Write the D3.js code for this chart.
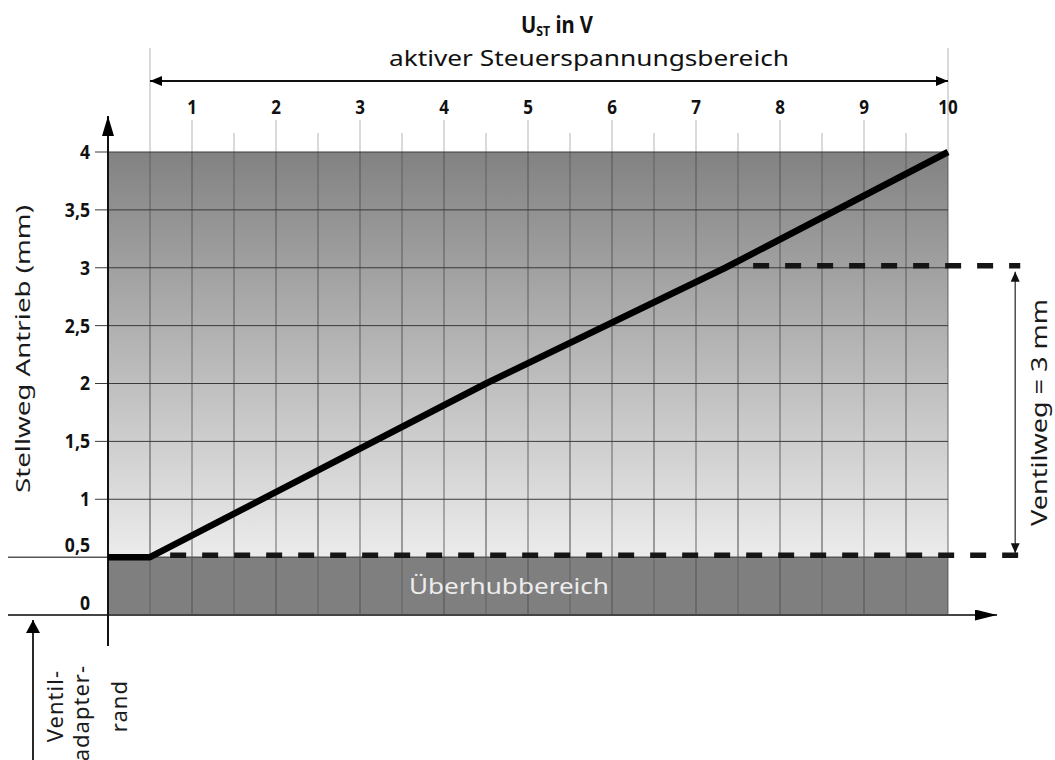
<!DOCTYPE html>
<html><head><meta charset="utf-8">
<script src="https://cdn.jsdelivr.net/npm/d3@7"></script>
<style>
html,body{margin:0;padding:0;background:#fff;}
svg{display:block;}
text{font-family:"Noto Sans","Open Sans",sans-serif;}
</style></head>
<body>
<svg id="chart" width="1055" height="760"></svg>
<script>
// ---- data ----
const voltTicks = [1,2,3,4,5,6,7,8,9,10];
const voltGrid = [0,0.5,1,1.5,2,2.5,3,3.5,4,4.5,5,5.5,6,6.5,7,7.5,8,8.5,9,9.5,10];
const strokeTicks = [0,0.5,1,1.5,2,2.5,3,3.5,4];
const strokeTickLabels = ["0","0,5","1","1,5","2","2,5","3","3,5","4"];
const curveVolt = [0, 0.5, 4.5, 7.35, 10];
const curveStroke = [0.5, 0.5, 2.0, 3.0, 4.0];
const activeRange = [0.5, 10];          // aktiver Steuerspannungsbereich (V)
const overstrokeRange = [0, 0.5];       // Überhubbereich (mm)
const valveTravel = [0.5, 3];           // Ventilweg (mm)
const travelDashFrom = [0.74, 7.68];    // where the dashed guide lines begin (V)
const travelDashTo = 10.86;             // where the dashed guide lines end (V)
const travelArrowAt = 10.8;             // position of the Ventilweg arrow (V)
const adapterLabel = ["Ventil-","adapter-","rand"];

// ---- layout ----
const svg = d3.select("#chart");
const x = d3.scaleLinear().domain([0,10]).range([108,948]);
const y = d3.scaleLinear().domain([0,4]).range([615,152]);

const defs = svg.append("defs");
const grad = defs.append("linearGradient").attr("id","bg").attr("x1",0).attr("y1",0).attr("x2",0).attr("y2",1);
grad.append("stop").attr("offset","0%").attr("stop-color","#828282");
grad.append("stop").attr("offset","100%").attr("stop-color","#ececec");

function arrowMarker(id, w, l, color){
  defs.append("marker").attr("id",id).attr("viewBox",`0 ${-w/2} ${l} ${w}`)
    .attr("refX", l).attr("refY",0).attr("markerWidth",l).attr("markerHeight",w)
    .attr("markerUnits","userSpaceOnUse").attr("orient","auto-start-reverse")
    .append("path").attr("d",`M0,${-w/2}L${l},0L0,${w/2}Z`).attr("fill",color);
}
arrowMarker("arrBig", 12, 20, "#000");
arrowMarker("arrX", 11, 22, "#000");
arrowMarker("arrSmall", 10, 12, "#000");
arrowMarker("arrLeft", 14, 13, "#000");
arrowMarker("arrTiny", 9, 10, "#111");

// background areas
svg.append("rect").attr("x",x(0)).attr("y",y(4)).attr("width",x(10)-x(0))
  .attr("height",y(overstrokeRange[1])-y(4)).attr("fill","url(#bg)");
svg.append("rect").attr("x",x(0)).attr("y",y(overstrokeRange[1])).attr("width",x(10)-x(0))
  .attr("height",y(overstrokeRange[0])-y(overstrokeRange[1])).attr("fill","#7f7f7f");

// extension lines above plot
svg.append("g").selectAll("line").data(voltGrid.filter(v=>v>0)).join("line")
  .attr("x1",d=>x(d)).attr("x2",d=>x(d))
  .attr("y1",d=> (d===activeRange[0]||d===activeRange[1]) ? 48 : (Number.isInteger(d)?120:133))
  .attr("y2",y(4)).attr("stroke","#b5b5b5").attr("stroke-width",1);

// vertical grid
svg.append("g").selectAll("line").data(voltGrid.filter(v=>v>0)).join("line")
  .attr("x1",d=>x(d)).attr("x2",d=>x(d)).attr("y1",y(4)).attr("y2",y(0))
  .attr("stroke",d=>Number.isInteger(d)?"#4a4a4a":"#666").attr("stroke-width",d=>Number.isInteger(d)?1:1.5)
  .attr("stroke-opacity",0.8);

// horizontal grid
svg.append("g").selectAll("line").data(strokeTicks.filter(v=>v>0.5)).join("line")
  .attr("x1",95).attr("x2",x(10)).attr("y1",d=>y(d)).attr("y2",d=>y(d))
  .attr("stroke","#3a3a3a").attr("stroke-width",1);
svg.append("line").attr("x1",8).attr("x2",x(10)).attr("y1",y(0.5)).attr("y2",y(0.5))
  .attr("stroke","#555").attr("stroke-width",1.5);

// x axis line
svg.append("line").attr("x1",8).attr("x2",997).attr("y1",y(0)).attr("y2",y(0))
  .attr("stroke","#444").attr("stroke-width",2).attr("marker-end","url(#arrX)");
// y axis line
svg.append("line").attr("x1",x(0)).attr("x2",x(0)).attr("y1",646).attr("y2",116)
  .attr("stroke","#111").attr("stroke-width",2).attr("marker-end","url(#arrBig)");

// y tick labels
svg.append("g").selectAll("text").data(strokeTicks).join("text")
  .attr("x",90).attr("y",(d)=> d<=0.5 ? y(d)-5 : y(d)+7)
  .attr("text-anchor","end").attr("font-size",20).attr("font-weight","bold").attr("fill","#111")
  .attr("transform",`translate(90,0) scale(0.88,1) translate(-90,0)`)
  .text((d,i)=>strokeTickLabels[i]);

// x tick labels
svg.append("g").selectAll("text").data(voltTicks).join("text")
  .attr("x",d=>x(d)).attr("y",114).attr("text-anchor","middle")
  .attr("font-size",20).attr("font-weight","bold").attr("fill","#111")
  .attr("transform",d=>`translate(${x(d)},0) scale(0.85,1) translate(${-x(d)},0)`)
  .text(d=>d);

// active range arrow
svg.append("line").attr("x1",x(activeRange[0])).attr("x2",x(activeRange[1])).attr("y1",81).attr("y2",81)
  .attr("stroke","#111").attr("stroke-width",2)
  .attr("marker-start","url(#arrSmall)").attr("marker-end","url(#arrSmall)");

// titles
const t = svg.append("text").attr("x",557).attr("y",33).attr("text-anchor","middle")
  .attr("font-weight","bold").attr("font-size",23).attr("fill","#111")
  .attr("transform","translate(557,0) scale(0.88,1) translate(-557,0)");
t.append("tspan").text("U");
t.append("tspan").attr("font-size",14).attr("dy",3).text("ST");
t.append("tspan").attr("dy",-3).text(" in V");

svg.append("text").attr("x",589).attr("y",66).attr("text-anchor","middle")
  .attr("font-size",22).attr("fill","#111")
  .attr("textLength",400).attr("lengthAdjust","spacingAndGlyphs")
  .text("aktiver Steuerspannungsbereich");

svg.append("text").attr("transform",`translate(30,${349}) rotate(-90)`).attr("text-anchor","middle")
  .attr("font-size",19).attr("fill","#1a1a1a")
  .attr("textLength",288).attr("lengthAdjust","spacingAndGlyphs")
  .text("Stellweg Antrieb (mm)");

svg.append("text").attr("x",509).attr("y",(y(overstrokeRange[0])+y(overstrokeRange[1]))/2+8)
  .attr("text-anchor","middle").attr("font-size",21).attr("fill","#ededed")
  .attr("textLength",200).attr("lengthAdjust","spacingAndGlyphs")
  .text("Überhubbereich");

// dashed guide lines
svg.append("g").selectAll("line").data(valveTravel).join("line")
  .attr("x1",(d,i)=>x(travelDashFrom[i])).attr("x2",x(travelDashTo))
  .attr("y1",d=>y(d)-2).attr("y2",d=>y(d)-2)
  .attr("stroke","#151515").attr("stroke-width",5.5).attr("stroke-dasharray","16,16");

// curve
const line = d3.line().x(d=>x(d[0])).y(d=>y(d[1]));
svg.append("path").datum(curveVolt.map((v,i)=>[v,curveStroke[i]]))
  .attr("d",line).attr("fill","none").attr("stroke","#000").attr("stroke-width",6.5)
  .attr("stroke-linejoin","round");

// Ventilweg arrow
svg.append("line").attr("x1",x(travelArrowAt)).attr("x2",x(travelArrowAt))
  .attr("y1",y(valveTravel[1])+4).attr("y2",y(valveTravel[0])-4)
  .attr("stroke","#333").attr("stroke-width",1.3)
  .attr("marker-start","url(#arrTiny)").attr("marker-end","url(#arrTiny)");
svg.append("text").attr("transform",`translate(1047,${(y(valveTravel[0])+y(valveTravel[1]))/2}) rotate(-90)`)
  .attr("text-anchor","middle").attr("font-size",21).attr("fill","#1a1a1a")
  .attr("textLength",227).attr("lengthAdjust","spacingAndGlyphs")
  .text("Ventilweg = 3 mm");

// Ventiladapterrand
svg.append("line").attr("x1",33).attr("x2",33).attr("y1",760).attr("y2",620)
  .attr("stroke","#111").attr("stroke-width",1.8).attr("marker-end","url(#arrLeft)");
const labX = [63,89,127];
const labTop = [670,665,680];
svg.append("g").selectAll("text").data(adapterLabel).join("text")
  .attr("transform",(d,i)=>`translate(${labX[i]},${labTop[i]}) rotate(-90)`)
  .attr("text-anchor","end").attr("font-size",22).attr("fill","#1a1a1a")
  .attr("letter-spacing",1)
  .text(d=>d);
</script>
</body></html>
